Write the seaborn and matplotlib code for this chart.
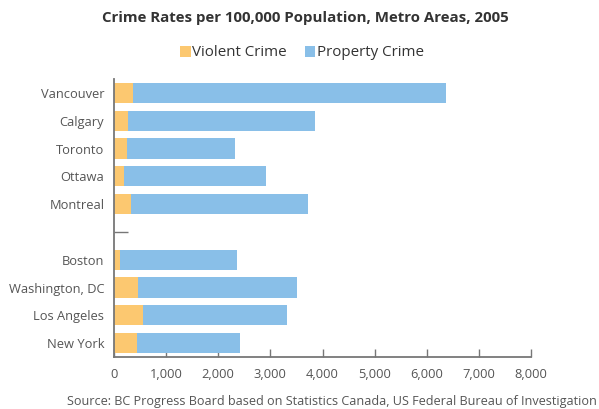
import matplotlib
matplotlib.use("Agg")
import matplotlib.pyplot as plt
from matplotlib.patches import Patch
from matplotlib.ticker import FuncFormatter
import seaborn as sns
import pandas as pd

# Crime rates per 100,000 population, metro areas, 2005
cities = ["Vancouver", "Calgary", "Toronto", "Ottawa", "Montreal",
          "Boston", "Washington, DC", "Los Angeles", "New York"]
violent = [370, 270, 250, 190, 330, 115, 460, 565, 440]
property_crime = [6000, 3590, 2070, 2730, 3390, 2245, 3050, 2755, 1980]

# Canadian cities, a blank spacer slot, then US cities
order = cities[:5] + [" "] + cities[5:]

df = pd.DataFrame({"city": cities, "violent": violent, "property": property_crime})
df["total"] = df["violent"] + df["property"]

sns.set_theme(style="white")
plt.rcParams["font.family"] = ["Open Sans", "DejaVu Sans"]

VIOLENT_C = "#fcc870"
PROPERTY_C = "#89bfe8"
AXIS_C = "#777777"
TEXT_C = "#555555"

fig = plt.figure(figsize=(5.99, 4.09), dpi=100)
ax = fig.add_axes([114 / 599, 1 - 357 / 409, (531 - 114) / 599, (357 - 79) / 409])

# stacked bars: full total in blue, violent share in orange on top
sns.barplot(data=df, y="city", x="total", order=order, orient="h",
            color=PROPERTY_C, width=0.72, saturation=1, linewidth=0, ax=ax)
sns.barplot(data=df, y="city", x="violent", order=order, orient="h",
            color=VIOLENT_C, width=0.72, saturation=1, linewidth=0, ax=ax)

ax.set_xlim(0, 8000)
ax.set_xticks(range(0, 8001, 1000))
ax.xaxis.set_major_formatter(FuncFormatter(lambda v, p: f"{int(v):,}"))
ax.set_xlabel("")
ax.set_ylabel("")

for side in ["top", "right"]:
    ax.spines[side].set_visible(False)
for side in ["left", "bottom"]:
    ax.spines[side].set_color(AXIS_C)
    ax.spines[side].set_linewidth(1.3)

ax.tick_params(axis="x", bottom=True, direction="in", length=6, width=1,
               color=AXIS_C, labelsize=9.3, labelcolor=TEXT_C, pad=8)
ax.tick_params(axis="y", which="major", length=0, labelsize=9.3,
               labelcolor=TEXT_C, pad=7)
# small separator tick at the spacer slot
ax.yaxis.remove_overlapping_locs = False
ax.set_yticks([order.index(" ")], minor=True)
ax.tick_params(axis="y", which="minor", left=True, direction="in", length=10,
               width=1, color=AXIS_C)
ax.grid(False)

fig.text(305 / 599, 1 - 18 / 409, "Crime Rates per 100,000 Population, Metro Areas, 2005",
         ha="center", va="center", fontsize=10.8, fontweight="bold", color="#333333")

handles = [Patch(facecolor=VIOLENT_C, edgecolor="none", label="Violent Crime"),
           Patch(facecolor=PROPERTY_C, edgecolor="none", label="Property Crime")]
fig.legend(handles=handles, loc="center", bbox_to_anchor=(302 / 599, 1 - 53 / 409),
           ncol=2, frameon=False, fontsize=10.9, handlelength=0.7, handleheight=0.7,
           handletextpad=0.1, columnspacing=1.2, labelcolor="#333333")

fig.text(597 / 599, 1 - 402 / 409,
         "Source: BC Progress Board based on Statistics Canada, US Federal Bureau of Investigation",
         ha="right", va="center", fontsize=9.05, color=TEXT_C)

fig.savefig("out.png", dpi=100)
